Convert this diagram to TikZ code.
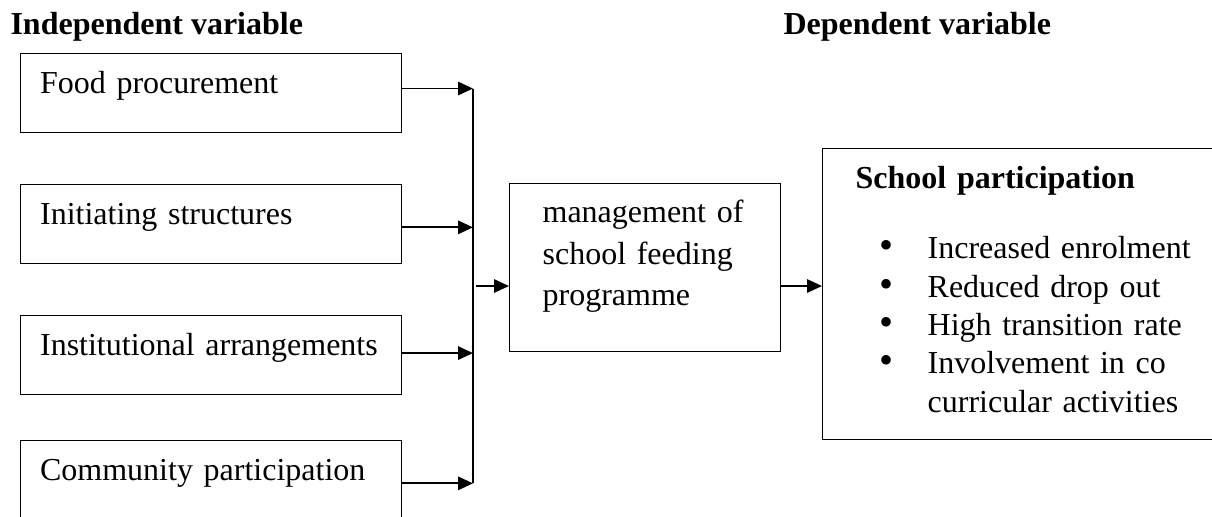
\documentclass[tikz,border=0pt]{standalone}
\usepackage{fontspec}
\setmainfont{Liberation Serif}
\usepackage{tikz}
\usetikzlibrary{arrows.meta, positioning}

\newcommand{\bulletmark}{\hspace*{11.3pt}\makebox[18.1pt][l]{\fontsize{15pt}{14.4pt}\selectfont\textbullet}}

\begin{document}
\begin{tikzpicture}[
            x=0.375pt, y=-0.375pt,
            font=\fontsize{12pt}{14.4pt}\selectfont,
            node distance=19pt,
            box/.style={rectangle, draw, line width=0.45pt, inner ysep=0pt, align=left},
            factor/.style={box, inner xsep=7.5pt, text width=128pt, text height=15pt, text depth=14.6pt},
            heading/.style={anchor=base west, inner sep=0pt, font=\fontsize{12pt}{14.4pt}\selectfont\bfseries},
            arrow/.style={-{Triangle[length=5.6pt, width=5pt]}, line width=0.7pt}
        ]
            \useasboundingbox (0,0) rectangle (1212,516);

            \node[heading] (indep) at (10,34) {Independent variable};
            \node[heading] (dep) at (783,34) {Dependent variable};

            \node[factor, anchor=north west] (food) at (19.5,53) {Food procurement};
            \node[factor, below=of food] (structures) {Initiating structures};
            \node[factor, below=of structures] (institutions) {Institutional arrangements};
            \node[factor, below=17pt of institutions] (community) {Community participation};

            \node[box, anchor=north west, inner xsep=12.375pt, text width=76.9pt,
                  text height=14.625pt, text depth=48.375pt,
                  font=\fontsize{12pt}{15.6pt}\selectfont] (mgmt) at (509,183)
                {management of\\school feeding\\programme};

            \node[box, anchor=north west, inner xsep=10pt, text width=136pt,
                  text height=15pt, text depth=94.125pt] (outcome) at (822,148)
                {\hspace*{2.4pt}\textbf{School participation}\\[11.85pt]
                 \bulletmark Increased enrolment\\
                 \bulletmark Reduced drop out\\
                 \bulletmark High transition rate\\
                 \bulletmark Involvement in co\\
                 \hspace*{29.4pt}curricular activities};

            \coordinate (bus) at (473,286);

            \draw[line width=0.8pt] ([yshift=1.7pt]food.east -| bus) -- ([yshift=-1.2pt]community.east -| bus);
            \draw[arrow] ([yshift=1.7pt]food.east) -- ([yshift=1.7pt]food.east -| bus);
            \draw[arrow] ([yshift=-1.3pt]structures.east) -- ([yshift=-1.3pt]structures.east -| bus);
            \draw[arrow] ([yshift=0.6pt]institutions.east) -- ([yshift=0.6pt]institutions.east -| bus);
            \draw[arrow] ([yshift=-1.2pt]community.east) -- ([yshift=-1.2pt]community.east -| bus);
            \draw[arrow] ([xshift=1.1pt]bus) -- (bus -| mgmt.west);
            \draw[arrow] (bus -| mgmt.east) -- (bus -| outcome.west);
        \end{tikzpicture}
\end{document}
